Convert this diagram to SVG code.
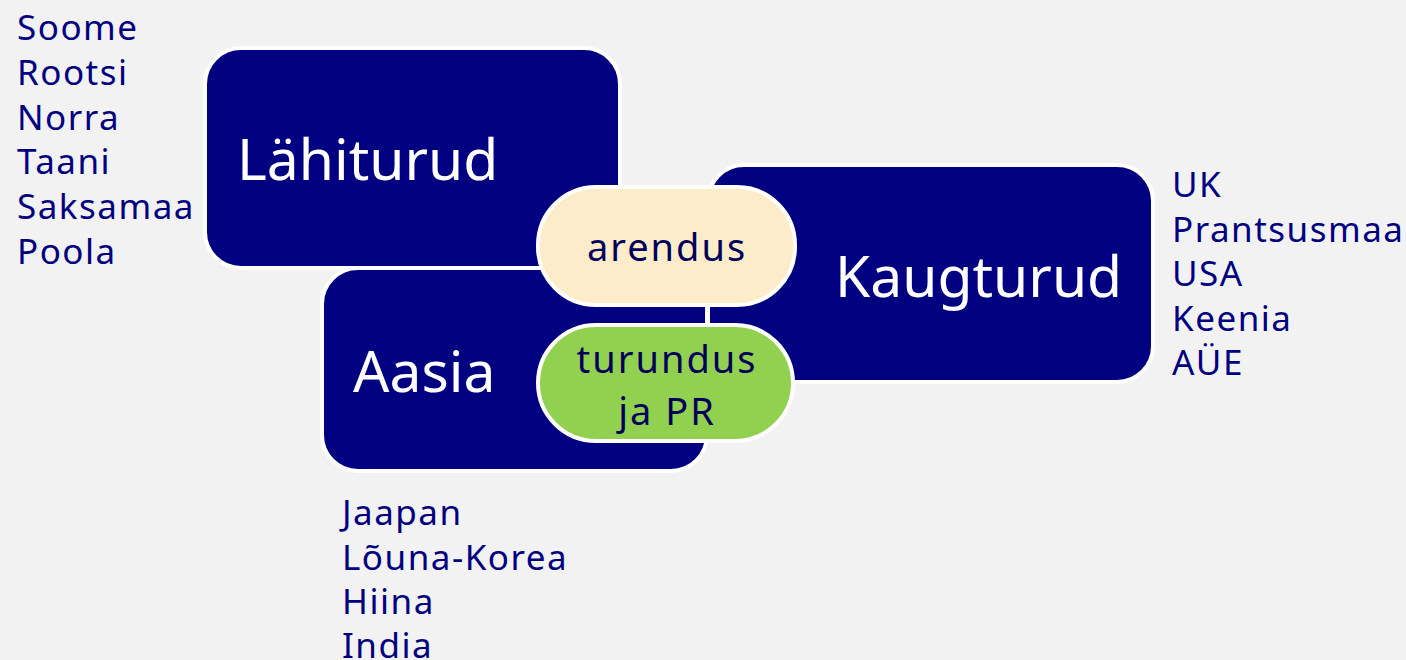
<svg xmlns="http://www.w3.org/2000/svg" width="1406" height="660" viewBox="0 0 1406 660">
<style>
.box{fill:#000080;stroke:#ffffff;stroke-width:4}
.pill{stroke:#ffffff;stroke-width:4}
.big{font-family:"Noto Sans",Lato,sans-serif;font-size:57px;fill:#ffffff}
.mid{font-family:"Noto Sans",Lato,sans-serif;font-size:38px;letter-spacing:2px;fill:#00005a;text-anchor:middle}
.lst{font-family:"Noto Sans",Lato,sans-serif;font-size:35px;letter-spacing:1.5px;fill:#000080}
</style>
<rect width="1406" height="660" fill="#f2f2f2"/>
<g id="connectors"></g>
<g id="lahiturud">
<rect class="box" x="205" y="48" width="415" height="220" rx="36"/>
<text class="big" x="237" y="180">Lähiturud</text>
</g>
<g id="aasia">
<rect class="box" x="322" y="268" width="385" height="203" rx="36"/>
<text class="big" x="353" y="392">Aasia</text>
</g>
<g id="kaugturud">
<rect class="box" x="708" y="165" width="445" height="217" rx="36"/>
<text class="big" x="835" y="297">Kaugturud</text>
</g>
<g id="arendus">
<rect class="pill" x="538" y="187" width="257" height="118" rx="58" fill="#fcecc9"/>
<text class="mid" x="667" y="261">arendus</text>
</g>
<g id="turundus">
<rect class="pill" x="538" y="325" width="255" height="116" rx="58" fill="#92d050"/>
<text class="mid" x="667" y="373">turundus</text>
<text class="mid" x="667" y="425">ja PR</text>
</g>
<g id="list-lahiturud">
<text class="lst" x="17" y="40">Soome</text>
<text class="lst" x="17" y="85">Rootsi</text>
<text class="lst" x="17" y="130">Norra</text>
<text class="lst" x="17" y="174">Taani</text>
<text class="lst" x="17" y="219">Saksamaa</text>
<text class="lst" x="17" y="264">Poola</text>
</g>
<g id="list-kaugturud">
<text class="lst" x="1172" y="197">UK</text>
<text class="lst" x="1172" y="242">Prantsusmaa</text>
<text class="lst" x="1172" y="286">USA</text>
<text class="lst" x="1172" y="331">Keenia</text>
<text class="lst" x="1172" y="375">AÜE</text>
</g>
<g id="list-aasia">
<text class="lst" x="342" y="525">Jaapan</text>
<text class="lst" x="342" y="570">Lõuna-Korea</text>
<text class="lst" x="342" y="614">Hiina</text>
<text class="lst" x="342" y="658">India</text>
</g>
</svg>
